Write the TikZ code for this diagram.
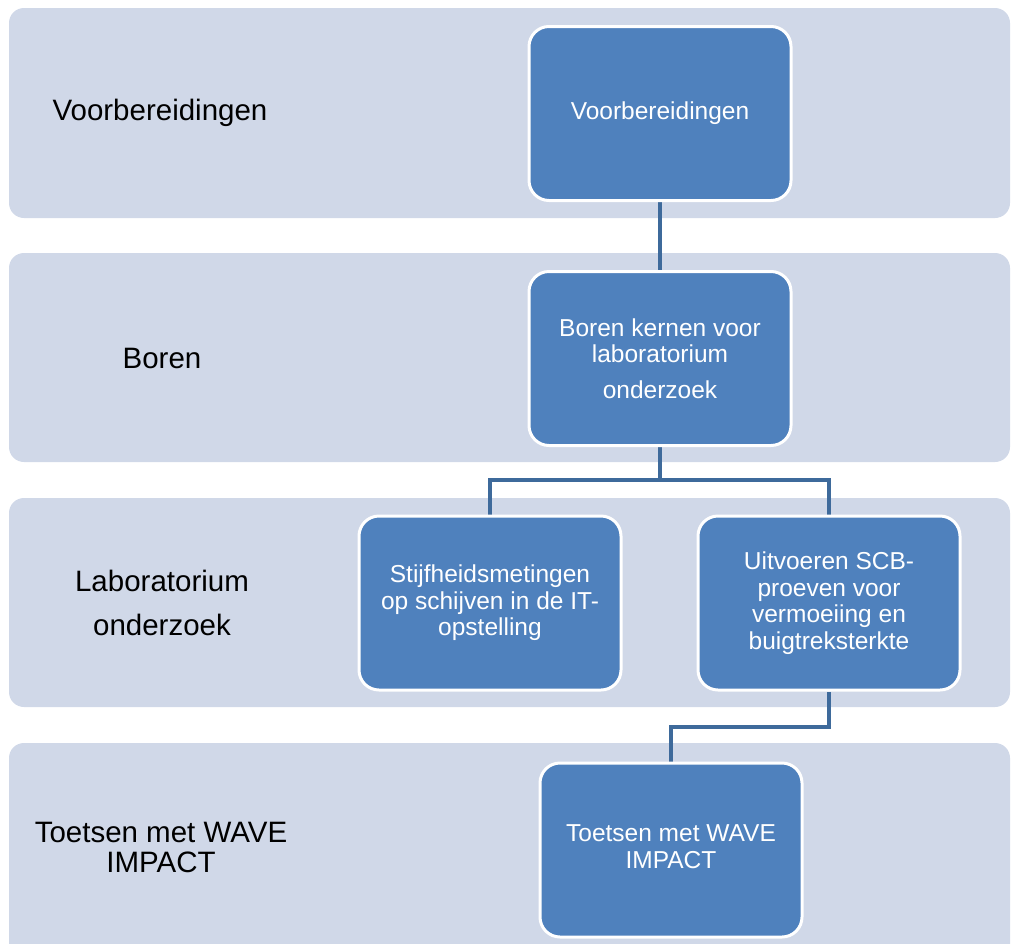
\documentclass[tikz,border=0pt]{standalone}
\usepackage{fontspec}
\setmainfont{Liberation Sans}
\usetikzlibrary{positioning}
\pgfdeclarelayer{bandlayer}
\pgfdeclarelayer{linklayer}
\pgfsetlayers{bandlayer,linklayer,main}
\definecolor{bandfill}{HTML}{D0D8E8}
\definecolor{boxfill}{HTML}{4F81BD}
\definecolor{linkcol}{RGB}{62,106,155}
\tikzset{
  band/.style={fill=bandfill, draw=none, rounded corners=15pt, inner sep=0pt},
  lanelabel/.style={text=black, align=center, inner sep=0pt, font=\fontsize{29.5}{44}\selectfont},
  stepbox/.style={fill=boxfill, draw=white, line width=3pt, rounded corners=20pt,
    minimum width=262pt, minimum height=174pt, text=white, align=center, inner sep=0pt,
    font=\fontsize{24.5}{26.5}\selectfont},
  link/.style={draw=linkcol, line width=4pt}
}
\begin{document}
\begin{tikzpicture}[x=1pt,y=-1pt]
\useasboundingbox (0,0) rectangle (1012,943);
\clip (0,0) rectangle (1012,943);
% step boxes
\node[stepbox] (b1) at (660,113.5) {Voorbereidingen};
\node[stepbox] (b2) at (660,358.5) {Boren kernen voor\\laboratorium\\[9pt]onderzoek};
\node[stepbox] (b3) at (490,603) {Stijfheidsmetingen\\op schijven in de IT-\\opstelling};
\node[stepbox] (b4) at (829,603) {Uitvoeren SCB-\\proeven voor\\vermoeiing en\\buigtreksterkte};
\node[stepbox] (b5) at (671,850) {Toetsen met WAVE\\IMPACT\rule[-7pt]{0pt}{0pt}};
% lane labels
\node[lanelabel] (l1) at (160,113) {Voorbereidingen};
\node[lanelabel] (l2) at (162,358) {Boren};
\node[lanelabel] (l3) at (162,603) {Laboratorium\\onderzoek};
\node[lanelabel, font=\fontsize{29.5}{30}\selectfont] (l4) at (161,847) {Toetsen met WAVE\\IMPACT};
% bands
\begin{pgfonlayer}{bandlayer}
\path[band] (9,8) rectangle (1010,218);
\path[band] (9,253) rectangle (1010,462);
\path[band] (9,498) rectangle (1010,707);
\path[band] (9,743) rectangle (1010,980);
\end{pgfonlayer}
% connectors
\begin{pgfonlayer}{linklayer}
\coordinate (j1) at (660,480);
\coordinate (j2) at (829,727);
\draw[link] (b1.south) -- (b2.north);
\draw[link] (b2.south) -- (j1) -| (b3.north);
\draw[link] (j1) -| (b4.north);
\draw[link] (b4.south) -- (j2) -| (b5.north);
\end{pgfonlayer}
\end{tikzpicture}
\end{document}
